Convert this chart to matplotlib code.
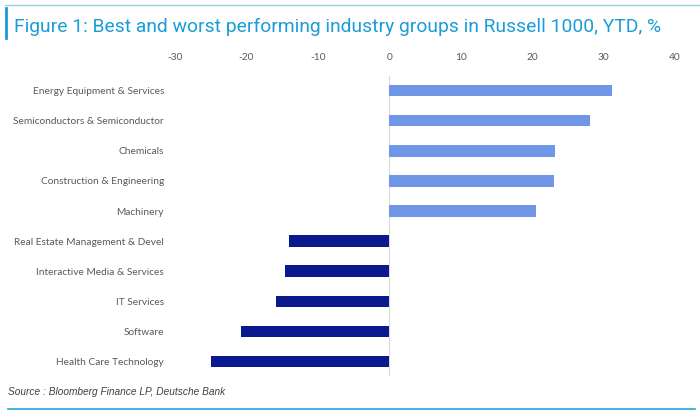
import matplotlib
matplotlib.use("Agg")
from matplotlib import pyplot as plt
from matplotlib.lines import Line2D

plt.rcParams["axes.unicode_minus"] = False

# Industry groups, YTD % change
groups = ["Energy Equipment & Services", "Semiconductors & Semiconductor", "Chemicals",
          "Construction & Engineering", "Machinery", "Real Estate Management & Devel",
          "Interactive Media & Services", "IT Services", "Software", "Health Care Technology"]
ytd = [31.2, 28.1, 23.2, 23.1, 20.6, -14.0, -14.6, -15.8, -20.7, -24.9]

light_blue = "#7096e8"
dark_blue = "#0a1a8e"
colors = [light_blue if v > 0 else dark_blue for v in ytd]

fig = plt.figure(figsize=(7, 4.17), dpi=100)
ax = fig.add_axes([0.25, 0.098, 0.714, 0.72])

ax.barh(range(len(groups)), ytd, height=0.37, color=colors)
ax.set_yticks(range(len(groups)))
ax.set_yticklabels(groups, fontfamily="Lato", fontsize=7.25, color="#595959")
ax.set_ylim(9.5, -0.5)
ax.set_xlim(-30, 40)
ax.set_xticks(range(-30, 41, 10))
ax.xaxis.tick_top()
ax.tick_params(axis="x", length=0, labelsize=7.25, labelcolor="#595959", pad=10)
ax.tick_params(axis="y", length=0, pad=8)
for lab in ax.get_xticklabels():
    lab.set_fontfamily("Lato")
for s in ax.spines.values():
    s.set_visible(False)
ax.axvline(0, color="#d9d9d9", lw=0.8, zorder=0)

# header / footer frame
fig.add_artist(Line2D([0.007, 1.0], [0.988, 0.988], color="#9cc9e4", lw=1.0))
fig.add_artist(Line2D([0.009, 0.009], [0.91, 0.98], color="#1a9cd8", lw=2.0))
fig.text(0.02, 0.935, "Figure 1: Best and worst performing industry groups in Russell 1000, YTD, %",
         fontfamily="Roboto", fontsize=13.9, color="#1a9cd8", va="center")
fig.text(0.011, 0.06, "Source : Bloomberg Finance LP, Deutsche Bank",
         fontfamily="Liberation Sans", fontstyle="italic", fontsize=7.3, color="#404040", va="center")
fig.add_artist(Line2D([0.011, 0.993], [0.019, 0.019], color="#29a3dc", lw=1.2))

fig.savefig("out.png")
